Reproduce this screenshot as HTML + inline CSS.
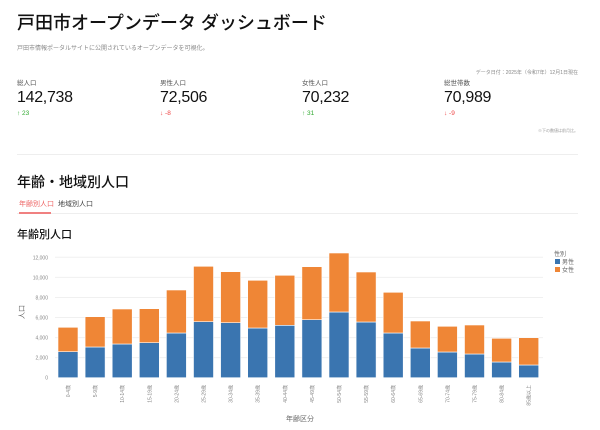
<!DOCTYPE html>
<html><head><meta charset="utf-8"><style>
body{margin:0;width:600px;height:430px;background:#fff;font-family:"Liberation Sans","Noto Sans CJK JP",sans-serif;position:relative;overflow:hidden;color:#111}
.a{position:absolute;white-space:nowrap}
.n{font-size:16px;font-weight:300;letter-spacing:-0.3px}
</style></head><body>
<div class="a" style="left:17px;top:9px;font-size:18px;font-weight:500;">戸田市オープンデータ ダッシュボード</div>
<div class="a" style="left:17px;top:43px;font-size:6px;color:#888">戸田市情報ポータルサイトに公開されているオープンデータを可視化。</div>
<div class="a" style="right:22px;top:69px;font-size:5px;color:#888">データ日付：2025年（令和7年）12月1日現在</div>
<div class="a" style="left:17px;top:77px;font-size:6.5px;color:#555">総人口</div>
<div class="a n" style="left:17px;top:89px">142,738</div>
<div class="a" style="left:17px;top:110px;font-size:6.5px;color:#3a3">↑ 23</div>
<div class="a" style="left:160px;top:77px;font-size:6.5px;color:#555">男性人口</div>
<div class="a n" style="left:160px;top:89px">72,506</div>
<div class="a" style="left:160px;top:110px;font-size:6.5px;color:#e44">↓ -8</div>
<div class="a" style="left:302px;top:77px;font-size:6.5px;color:#555">女性人口</div>
<div class="a n" style="left:302px;top:89px">70,232</div>
<div class="a" style="left:302px;top:110px;font-size:6.5px;color:#3a3">↑ 31</div>
<div class="a" style="left:444px;top:77px;font-size:6.5px;color:#555">総世帯数</div>
<div class="a n" style="left:444px;top:89px">70,989</div>
<div class="a" style="left:444px;top:110px;font-size:6.5px;color:#e44">↓ -9</div>
<div class="a" style="right:22px;top:128px;font-size:4px;color:#999">※下の数値は前月比。</div>
<div class="a" style="left:17px;top:154px;width:561px;height:1px;background:#eee"></div>
<div class="a" style="left:17px;top:172px;font-size:14px;font-weight:500">年齢・地域別人口</div>
<div class="a" style="left:19px;top:199px;font-size:7px;color:#e66">年齢別人口</div>
<div class="a" style="left:58px;top:199px;font-size:7px;color:#444">地域別人口</div>
<div class="a" style="left:17px;top:213px;width:561px;height:1px;background:#eee"></div>
<div class="a" style="left:19px;top:212px;width:32px;height:2px;background:#f08080"></div>
<div class="a" style="left:17px;top:226px;font-size:11px;font-weight:500">年齢別人口</div>
<svg class="a" style="left:0;top:0" width="600" height="430" font-family="Liberation Sans,Noto Sans CJK JP,sans-serif">
<g stroke="#f0f0f0" stroke-width="1">
<line x1="55" x2="543" y1="357.6" y2="357.6"/><line x1="55" x2="543" y1="337.6" y2="337.6"/><line x1="55" x2="543" y1="317.5" y2="317.5"/><line x1="55" x2="543" y1="297.5" y2="297.5"/><line x1="55" x2="543" y1="277.4" y2="277.4"/><line x1="55" x2="543" y1="257.3" y2="257.3"/>
</g>
<g font-size="5" fill="#888" text-anchor="end">
<text x="48" y="379.5">0</text><text x="48" y="359.5">2,000</text><text x="48" y="339.5">4,000</text><text x="48" y="319.5">6,000</text><text x="48" y="299.5">8,000</text><text x="48" y="279.5">10,000</text><text x="48" y="259.5">12,000</text>
</g>
<text x="24" y="312" font-size="7" fill="#666" text-anchor="middle" transform="rotate(-90 24 312)">人口</text>
<text x="300" y="421" font-size="7" fill="#666" text-anchor="middle">年齢区分</text>
<g stroke="#fff" stroke-width="0.6">
<g fill="#3a75b0">
<rect x="58" y="351.7" width="20" height="26"/>
<rect x="85.1" y="347" width="20" height="30.7"/>
<rect x="112.2" y="344" width="20" height="33.7"/>
<rect x="139.3" y="342.7" width="20" height="35"/>
<rect x="166.4" y="333" width="20" height="44.7"/>
<rect x="193.5" y="321.7" width="20" height="56"/>
<rect x="220.6" y="322.7" width="20" height="55"/>
<rect x="247.7" y="328" width="20" height="49.7"/>
<rect x="274.8" y="325.3" width="20" height="52.4"/>
<rect x="301.9" y="319.7" width="20" height="58"/>
<rect x="329" y="312" width="20" height="65.7"/>
<rect x="356.1" y="322" width="20" height="55.7"/>
<rect x="383.2" y="333" width="20" height="44.7"/>
<rect x="410.3" y="348" width="20" height="29.7"/>
<rect x="437.4" y="352" width="20" height="25.7"/>
<rect x="464.5" y="354" width="20" height="23.7"/>
<rect x="491.6" y="362" width="20" height="15.7"/>
<rect x="518.7" y="365" width="20" height="12.7"/>
</g>
<g fill="#ef8636">
<rect x="58" y="327.3" width="20" height="24.4"/>
<rect x="85.1" y="316.7" width="20" height="30.3"/>
<rect x="112.2" y="309" width="20" height="35"/>
<rect x="139.3" y="308.7" width="20" height="34"/>
<rect x="166.4" y="290" width="20" height="43"/>
<rect x="193.5" y="266.3" width="20" height="55.4"/>
<rect x="220.6" y="271.7" width="20" height="51"/>
<rect x="247.7" y="280.3" width="20" height="47.7"/>
<rect x="274.8" y="275.3" width="20" height="50"/>
<rect x="301.9" y="266.7" width="20" height="53"/>
<rect x="329" y="253" width="20" height="59"/>
<rect x="356.1" y="272" width="20" height="50"/>
<rect x="383.2" y="292.3" width="20" height="40.7"/>
<rect x="410.3" y="321" width="20" height="27"/>
<rect x="437.4" y="326.3" width="20" height="25.7"/>
<rect x="464.5" y="325" width="20" height="29"/>
<rect x="491.6" y="338.3" width="20" height="23.7"/>
<rect x="518.7" y="337.7" width="20" height="27.3"/>
</g></g>
<g font-size="5" fill="#888" text-anchor="end">
<text transform="translate(70,385) rotate(-90)">0-4歳</text>
<text transform="translate(97.1,385) rotate(-90)">5-9歳</text>
<text transform="translate(124.2,385) rotate(-90)">10-14歳</text>
<text transform="translate(151.3,385) rotate(-90)">15-19歳</text>
<text transform="translate(178.4,385) rotate(-90)">20-24歳</text>
<text transform="translate(205.5,385) rotate(-90)">25-29歳</text>
<text transform="translate(232.6,385) rotate(-90)">30-34歳</text>
<text transform="translate(259.7,385) rotate(-90)">35-39歳</text>
<text transform="translate(286.8,385) rotate(-90)">40-44歳</text>
<text transform="translate(313.9,385) rotate(-90)">45-49歳</text>
<text transform="translate(341,385) rotate(-90)">50-54歳</text>
<text transform="translate(368.1,385) rotate(-90)">55-59歳</text>
<text transform="translate(395.2,385) rotate(-90)">60-64歳</text>
<text transform="translate(422.3,385) rotate(-90)">65-69歳</text>
<text transform="translate(449.4,385) rotate(-90)">70-74歳</text>
<text transform="translate(476.5,385) rotate(-90)">75-79歳</text>
<text transform="translate(503.6,385) rotate(-90)">80-84歳</text>
<text transform="translate(530.7,385) rotate(-90)">85歳以上</text>
</g>
<text x="554" y="256" font-size="6" fill="#666">性別</text>
<rect x="555" y="259" width="5" height="5" fill="#3a75b0"/><text x="562" y="264" font-size="6" fill="#666">男性</text>
<rect x="555" y="267" width="5" height="5" fill="#ef8636"/><text x="562" y="272" font-size="6" fill="#666">女性</text>
</svg>
</body></html>
